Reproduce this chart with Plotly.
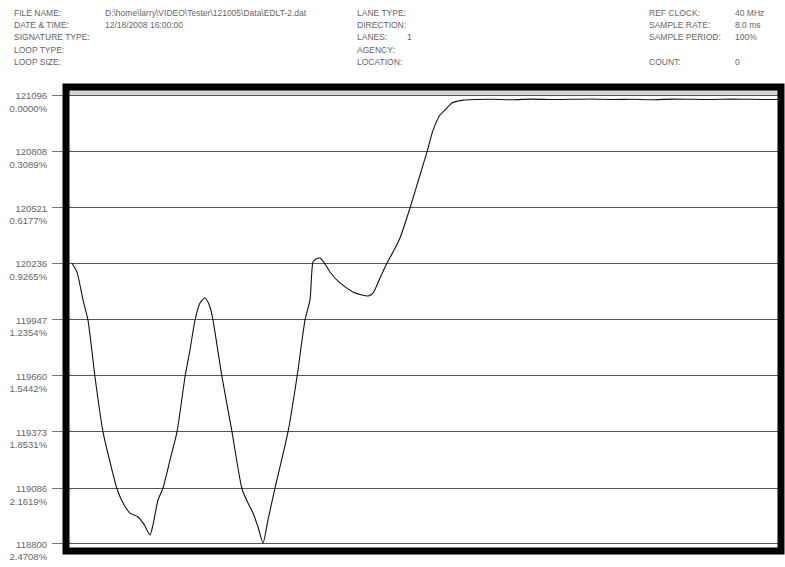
import plotly.graph_objects as go

# signature trace (sample index vs. count)
samples = [0, 5, 11, 16, 23, 31, 40, 45, 52, 58, 66, 72, 78, 81, 86, 91, 98,
           105, 113, 118, 123, 128, 133, 138, 141, 150, 160, 170, 176, 181,
           186, 191, 196, 203, 216, 225, 233, 238, 241, 244, 248, 253, 258,
           268, 281, 290, 296, 301, 308, 315, 321, 328, 338, 348, 355, 361,
           368, 373, 380, 386, 391, 403, 420, 440, 460, 480, 500, 520, 540,
           560, 580, 600, 620, 640, 660, 680, 700, 708]
counts = [120236, 120190, 120048, 119945, 119654, 119373, 119178, 119081,
          119000, 118958, 118938, 118900, 118846, 118897, 119025, 119086,
          119229, 119373, 119654, 119792, 119945, 120032, 120058, 120012,
          119945, 119654, 119373, 119081, 119009, 118958, 118887, 118805,
          118923, 119086, 119373, 119654, 119945, 120048, 120242, 120257,
          120262, 120232, 120191, 120135, 120089, 120073, 120068, 120083,
          120160, 120237, 120293, 120365, 120518, 120687, 120805, 120915,
          120994, 121019, 121055, 121065, 121070, 121073, 121074, 121072,
          121075, 121073, 121074, 121076, 121073, 121074, 121072, 121075,
          121074, 121073, 121075, 121074, 121073, 121074]

tick_counts = [121096, 120808, 120521, 120236, 119947, 119660, 119373, 119086, 118800]
tick_pcts = ['0.0000%', '0.3089%', '0.6177%', '0.9265%', '1.2354%',
             '1.5442%', '1.8531%', '2.1619%', '2.4708%']

header_left = [('FILE NAME:', r'D:\home\larry\VIDEO\Tester\121005\Data\EDLT-2.dat'),
               ('DATE & TIME:', '12/18/2008 16:00:00'),
               ('SIGNATURE TYPE:', ''),
               ('LOOP TYPE:', ''),
               ('LOOP SIZE:', '')]
header_mid = [('LANE TYPE:', ''), ('DIRECTION:', ''), ('LANES:', '1'),
              ('AGENCY:', ''), ('LOCATION:', '')]
header_right = [('REF CLOCK:', '40 MHz'), ('SAMPLE RATE:', '8.0 ms'),
                ('SAMPLE PERIOD:', '100%'), ('', ''), ('COUNT:', '0')]

W, H = 785, 567
ML, MR, MT, MB = 66, 4, 87, 16
hdr = dict(family='Liberation Sans, Arial', size=8.5, color='#666')
tck = dict(family='Liberation Sans, Arial', size=9.5, color='#666')

fig = go.Figure()
fig.add_scatter(x=samples, y=counts, mode='lines', line_shape='spline',
                line=dict(color='#111', width=1.1, smoothing=0.6), hoverinfo='skip')

fig.update_layout(
    width=W, height=H, margin=dict(l=ML, r=MR, t=MT, b=MB, autoexpand=False),
    paper_bgcolor='white', plot_bgcolor='white', showlegend=False,
    xaxis=dict(range=[-6, 709], showgrid=False, showticklabels=False,
               zeroline=False, ticks='', automargin=False),
    yaxis=dict(range=[118764, 121137], tickvals=tick_counts,
               ticktext=[f'{c}<br>{p}' for c, p in zip(tick_counts, tick_pcts)],
               ticks='outside', ticklen=13, tickcolor='#777', tickwidth=1,
               ticklabelshift=7, ticklabelstandoff=3, automargin=False,
               showgrid=True, gridcolor='#555', gridwidth=1.4,
               zeroline=False, tickfont=tck),
)

# grey shading under the top edge
fig.add_shape(type='rect', xref='paper', yref='y', x0=0, x1=1,
              y0=121096, y1=121137, fillcolor='#d4d4d4', line_width=0, layer='below')
# heavy frame
fig.add_shape(type='rect', xref='paper', yref='paper', x0=0, x1=1, y0=0, y1=1,
              line=dict(color='black', width=7), layer='above')

rows_y = [13, 25, 37, 50, 62]
cols = [(header_left, 12, 103), (header_mid, 355, 405), (header_right, 647, 733)]
for items, xl, xv in cols:
    for (lab, val), ry in zip(items, rows_y):
        for s, xx in ((lab, xl), (val, xv)):
            if s:
                fig.add_annotation(text=s, xref='paper', yref='paper',
                                   x=(xx - ML) / (W - ML - MR),
                                   y=1 + (MT - ry) / (H - MT - MB),
                                   xanchor='left', yanchor='middle',
                                   showarrow=False, font=hdr)

# page body has an 8px default margin; drop it so the figure sits at 0,0
fig.write_html('out.html', config={'displayModeBar': False},
               post_script="document.body.style.margin='0';document.body.style.overflow='hidden';")
